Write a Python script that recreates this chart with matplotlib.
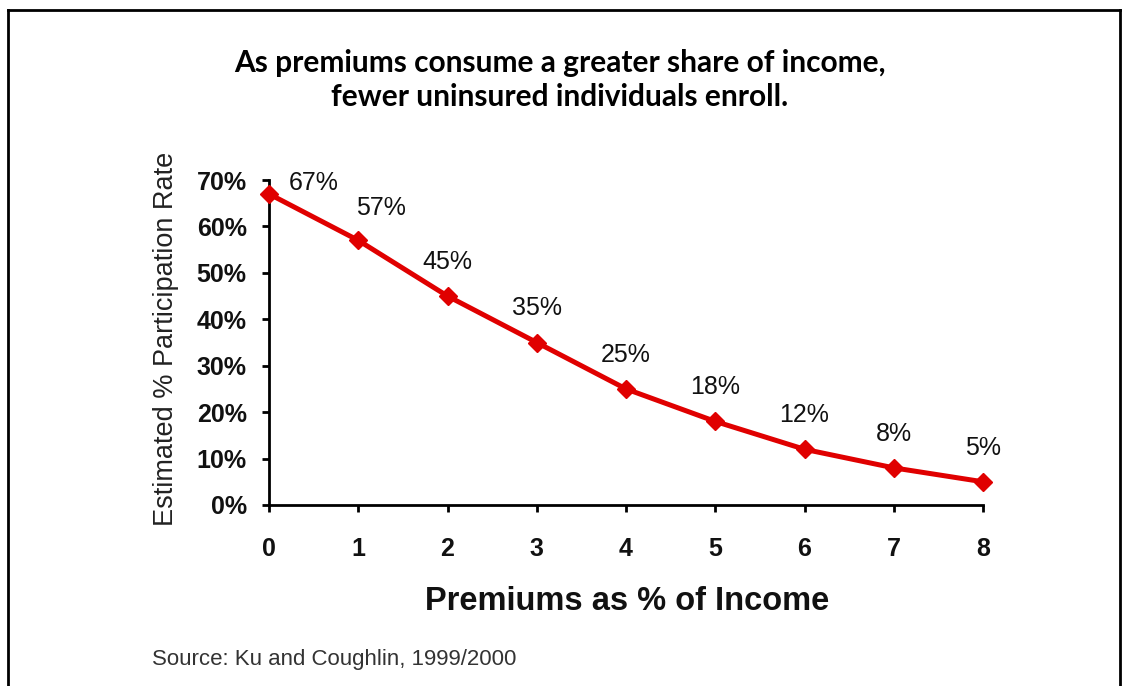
import matplotlib
matplotlib.use("Agg")
import matplotlib.pyplot as plt
from matplotlib.lines import Line2D
from matplotlib.ticker import PercentFormatter

# premiums as % of income vs. estimated participation rate
premium_share = [0, 1, 2, 3, 4, 5, 6, 7, 8]
participation = [67, 57, 45, 35, 25, 18, 12, 8, 5]
point_labels = ["67%", "57%", "45%", "35%", "25%", "18%", "12%", "8%", "5%"]
y_ticks = [0, 10, 20, 30, 40, 50, 60, 70]

title = "As premiums consume a greater share of income,\nfewer uninsured individuals enroll."
x_label = "Premiums as % of Income"
y_label = "Estimated % Participation Rate"
source = "Source: Ku and Coughlin, 1999/2000"

W, H = 1122, 686
RED = "#e00000"
INK = "#111111"

fig = plt.figure(figsize=(W / 100, H / 100), dpi=100)
fig.patch.set_facecolor("white")

# frame around the slide (bottom edge is cut off in the original)
frame = dict(color="black", lw=2)
fig.add_artist(Line2D([8 / W, 8 / W], [0, 1 - 10 / H], **frame))
fig.add_artist(Line2D([8 / W, 1120 / W], [1 - 10 / H, 1 - 10 / H], **frame))
fig.add_artist(Line2D([1120 / W, 1120 / W], [0, 1 - 10 / H], **frame))

ax = fig.add_axes([269 / W, (H - 505) / H, (983 - 269) / W, (505 - 180) / H])
ax.plot(premium_share, participation, color=RED, lw=3.6, marker="D",
        markersize=9.5, markerfacecolor=RED, markeredgecolor=RED,
        clip_on=False, zorder=3)

# excel nudged the first two labels to the right
for i, (x, y, lab) in enumerate(zip(premium_share, participation, point_labels)):
    if i == 0:
        offset = (32, 8)
    elif i == 1:
        offset = (16, 23)
    else:
        offset = (0, 24.5)
    ax.annotate(lab, (x, y), xytext=offset, textcoords="offset points",
                ha="center", va="center", fontsize=18,
                family="Liberation Sans", color=INK)

ax.set_xlim(0, 8)
ax.set_ylim(0, 70)
ax.set_xticks(premium_share)
ax.set_yticks(y_ticks)
ax.yaxis.set_major_formatter(PercentFormatter(decimals=0))
for s in ["top", "right"]:
    ax.spines[s].set_visible(False)
for s in ["left", "bottom"]:
    ax.spines[s].set_linewidth(2)
ax.tick_params(axis="both", direction="out", length=5, width=2, color="black")
ax.tick_params(axis="x", pad=18)
ax.tick_params(axis="y", pad=11)
for lab in ax.get_xticklabels() + ax.get_yticklabels():
    lab.set_family("Liberation Sans")
    lab.set_fontsize(18)
    lab.set_fontweight("bold")
    lab.set_color(INK)

fig.text(627 / W, 1 - 601 / H, x_label, ha="center", va="center",
         family="Liberation Sans", fontsize=23.5, fontweight="bold", color=INK)
fig.text(166 / W, 1 - 339 / H, y_label, ha="center", va="center", rotation=90,
         family="Liberation Sans", fontsize=19.5, color="#222222")

fig.text(560 / W, 1 - 80 / H, title, ha="center", va="center", fontsize=21.5,
         fontweight="bold", family="Lato", linespacing=1.25)
fig.text(152 / W, 1 - 660 / H, source, ha="left", va="center", fontsize=16,
         family="Liberation Sans", color="#333333")

fig.savefig("out.png", dpi=100)
